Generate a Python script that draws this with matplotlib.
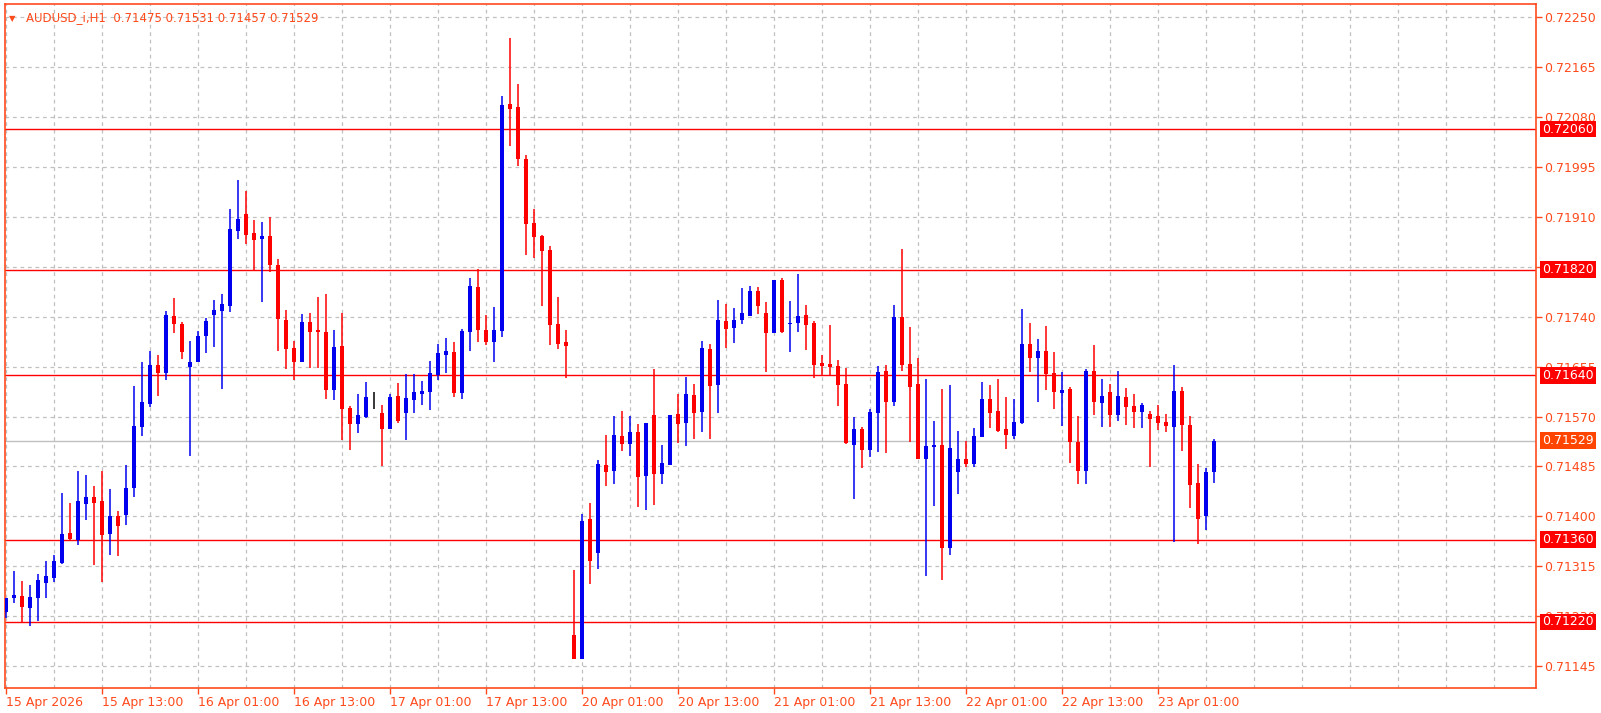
import numpy as np
import matplotlib
matplotlib.use("Agg")
import matplotlib.pyplot as plt
import matplotlib.transforms as mtransforms

# AUDUSD_i H1 candles, prices in points (1e-5)
opens = [71237, 71261, 71264, 71244, 71261, 71287, 71295, 71321, 71372, 71360,
         71421, 71433, 71426, 71370, 71401, 71402, 71448, 71552, 71592, 71658,
         71644, 71742, 71728, 71655, 71663, 71707, 71743, 71750, 71759, 71886,
         71915, 71883, 71873, 71878, 71828, 71735, 71687, 71663, 71731, 71718,
         71714, 71615, 71690, 71585, 71558, 71569, 71601, 71576, 71549, 71605,
         71576, 71598, 71609, 71612, 71641, 71675, 71680, 71610, 71714, 71791,
         71718, 71697, 71716, 72103, 72098, 72009, 71900, 71878, 71854, 71728,
         71697, 71198, 71157, 71396, 71338, 71488, 71477, 71537, 71523, 71544,
         71469, 71573, 71472, 71488, 71575, 71559, 71607, 71578, 71685, 71624,
         71733, 71721, 71735, 71742, 71784, 71747, 71713, 71803, 71728, 71730,
         71743, 71730, 71661, 71660, 71656, 71626, 71522, 71549, 71513, 71576,
         71648, 71595, 71740, 71660, 71626, 71498, 71518, 71522, 71346, 71476,
         71498, 71489, 71535, 71600, 71580, 71549, 71537, 71559, 71694, 71670,
         71682, 71644, 71610, 71617, 71527, 71477, 71648, 71593, 71612, 71573,
         71603, 71588, 71578, 71575, 71571, 71561, 71552, 71614, 71556, 71457,
         71401, 71475]
highs = [71261, 71307, 71290, 71283, 71302, 71324, 71334, 71440, 71423, 71477,
         71471, 71452, 71477, 71447, 71409, 71488, 71622, 71663, 71682, 71675,
         71750, 71772, 71731, 71699, 71716, 71738, 71769, 71779, 71924, 71973,
         71955, 71905, 71902, 71910, 71839, 71752, 71699, 71745, 71747, 71774,
         71779, 71718, 71747, 71588, 71609, 71629, 71612, 71590, 71609, 71627,
         71643, 71643, 71631, 71665, 71694, 71704, 71697, 71719, 71806, 71822,
         71743, 71757, 72116, 72215, 72137, 72016, 71924, 71880, 71861, 71774,
         71718, 71309, 71404, 71423, 71496, 71539, 71571, 71580, 71571, 71557,
         71559, 71651, 71522, 71573, 71609, 71638, 71626, 71699, 71694, 71769,
         71762, 71755, 71789, 71793, 71791, 71765, 71803, 71806, 71767, 71813,
         71760, 71733, 71675, 71726, 71667, 71653, 71569, 71552, 71583, 71656,
         71658, 71760, 71856, 71723, 71670, 71634, 71563, 71617, 71624, 71546,
         71529, 71551, 71629, 71624, 71634, 71603, 71600, 71753, 71730, 71702,
         71724, 71680, 71646, 71621, 71571, 71651, 71692, 71634, 71626, 71648,
         71619, 71609, 71593, 71580, 71590, 71575, 71658, 71621, 71571, 71489,
         71483, 71531]
lows = [71227, 71252, 71218, 71213, 71222, 71261, 71288, 71319, 71360, 71351,
        71394, 71317, 71288, 71334, 71333, 71385, 71433, 71537, 71586, 71605,
        71632, 71713, 71668, 71503, 71663, 71679, 71689, 71617, 71748, 71873,
        71864, 71820, 71765, 71817, 71682, 71651, 71632, 71663, 71653, 71653,
        71600, 71598, 71530, 71513, 71542, 71568, 71583, 71486, 71549, 71559,
        71530, 71576, 71590, 71581, 71632, 71644, 71603, 71600, 71682, 71697,
        71692, 71663, 71706, 72031, 71997, 71845, 71840, 71759, 71692, 71685,
        71636, 71157, 71157, 71285, 71310, 71452, 71455, 71511, 71503, 71416,
        71411, 71420, 71455, 71488, 71525, 71520, 71532, 71544, 71532, 71576,
        71687, 71695, 71728, 71742, 71745, 71646, 71713, 71713, 71680, 71714,
        71684, 71636, 71639, 71639, 71588, 71523, 71430, 71483, 71501, 71510,
        71508, 71588, 71648, 71527, 71498, 71298, 71418, 71292, 71334, 71438,
        71484, 71484, 71535, 71551, 71544, 71515, 71532, 71557, 71646, 71595,
        71615, 71583, 71554, 71491, 71455, 71455, 71573, 71552, 71552, 71563,
        71556, 71551, 71551, 71484, 71547, 71544, 71356, 71511, 71414, 71353,
        71377, 71457]
closes = [71261, 71266, 71246, 71263, 71292, 71299, 71324, 71370, 71362, 71426,
          71433, 71423, 71368, 71401, 71384, 71448, 71554, 71595, 71658, 71644,
          71743, 71728, 71680, 71663, 71707, 71733, 71752, 71762, 71890, 71907,
          71880, 71871, 71878, 71828, 71736, 71685, 71663, 71731, 71714, 71714,
          71615, 71689, 71583, 71558, 71573, 71603, 71601, 71549, 71603, 71563,
          71602, 71612, 71614, 71644, 71679, 71682, 71610, 71716, 71793, 71718,
          71697, 71718, 72101, 72094, 72009, 71898, 71876, 71852, 71726, 71694,
          71690, 71157, 71392, 71324, 71489, 71476, 71539, 71523, 71544, 71467,
          71559, 71472, 71491, 71573, 71558, 71609, 71576, 71687, 71622, 71735,
          71719, 71735, 71747, 71784, 71759, 71713, 71803, 71714, 71730, 71742,
          71726, 71658, 71656, 71655, 71624, 71525, 71549, 71513, 71578, 71646,
          71595, 71740, 71658, 71621, 71498, 71520, 71522, 71346, 71517, 71498,
          71489, 71537, 71600, 71576, 71546, 71539, 71561, 71694, 71670, 71682,
          71643, 71612, 71615, 71527, 71477, 71648, 71595, 71605, 71573, 71605,
          71586, 71578, 71590, 71566, 71559, 71554, 71614, 71556, 71454, 71396,
          71476, 71529]

level_lines = [0.72060, 0.71820, 0.71640, 0.71360, 0.71220]
bid_price = 0.71529
y_ticks = [0.71145, 0.71230, 0.71315, 0.71400, 0.71485, 0.71570, 0.71655,
           0.71740, 0.71825, 0.71910, 0.71995, 0.72080, 0.72165, 0.72250]
x_labels = ["15 Apr 2026", "15 Apr 13:00", "16 Apr 01:00", "16 Apr 13:00",
            "17 Apr 01:00", "17 Apr 13:00", "20 Apr 01:00", "20 Apr 13:00",
            "21 Apr 01:00", "21 Apr 13:00", "22 Apr 01:00", "22 Apr 13:00",
            "23 Apr 01:00"]

o = np.array(opens) / 1e5
h = np.array(highs) / 1e5
l = np.array(lows) / 1e5
c = np.array(closes) / 1e5
idx = np.arange(len(o))

axis_col = "#ff4a1c"
W, H = 1601, 713
fig = plt.figure(figsize=(W / 100, H / 100), dpi=100)
ax = fig.add_axes([4.7 / W, 1 - 688 / H, (1536 - 4.7) / W, (688 - 4) / H])

colors = np.where(c > o, "#0000ee", np.where(c < o, "#ff0000", "black"))
ax.vlines(idx, l, h, colors=colors, lw=1.1, zorder=3)
bottoms = np.minimum(o, c)
heights = np.maximum(np.abs(c - o), 0.000012)
ax.bar(idx, heights, bottom=bottoms, width=0.62, color=colors, lw=0, zorder=4)

for lv in level_lines:
    ax.axhline(lv, color="#ff0000", lw=1.0, zorder=2)
ax.axhline(bid_price, color="#c0c0c0", lw=1.0, zorder=2)

ax.set_xlim(-0.16, 191.25)
ax.set_ylim(0.711075, 0.722730)

ax.set_yticks(y_ticks)
ax.set_yticklabels([f"{v:.5f}" for v in y_ticks])
ax.yaxis.tick_right()
ax.set_xticks(np.arange(0, 12 * len(x_labels), 12))
ax.set_xticklabels(x_labels, ha="left")
ax.tick_params(axis="both", colors=axis_col, labelcolor=axis_col,
               labelsize=9, length=4, width=1, direction="out")
ax.tick_params(axis="y", pad=2)
ax.tick_params(axis="x", pad=2)

# grid: price ticks and every 6 bars
for v in y_ticks:
    ax.axhline(v, color="#c0c0c0", lw=0.9, ls=(0, (3, 3)), zorder=1)
for xv in np.arange(0, 192, 6):
    ax.axvline(xv, color="#c0c0c0", lw=0.9, ls=(0, (3, 3)), zorder=1)

for s in ax.spines.values():
    s.set_color(axis_col)
    s.set_linewidth(1.2)

trans = mtransforms.blended_transform_factory(ax.transAxes, ax.transData)
for lv in level_lines:
    ax.text(1.004, lv, f"{lv:.5f}", transform=trans, va="center", ha="left",
            fontsize=9, color="white", zorder=10, clip_on=False,
            bbox=dict(boxstyle="square,pad=0.15", fc="#ff0000", ec="none"))
ax.text(1.004, bid_price, f"{bid_price:.5f}", transform=trans, va="center",
        ha="left", fontsize=9, color="white", zorder=10, clip_on=False,
        bbox=dict(boxstyle="square,pad=0.15", fc="#ff4500", ec="none"))

ax.text(0.003, 0.985, "\u25bc", transform=ax.transAxes, fontsize=6,
        color=axis_col, va="top", ha="left")
ax.text(0.014, 0.99, "AUDUSD_i,H1  0.71475 0.71531 0.71457 0.71529",
        transform=ax.transAxes, fontsize=8.5, color=axis_col, va="top", ha="left")

fig.savefig("out.png", dpi=100)
